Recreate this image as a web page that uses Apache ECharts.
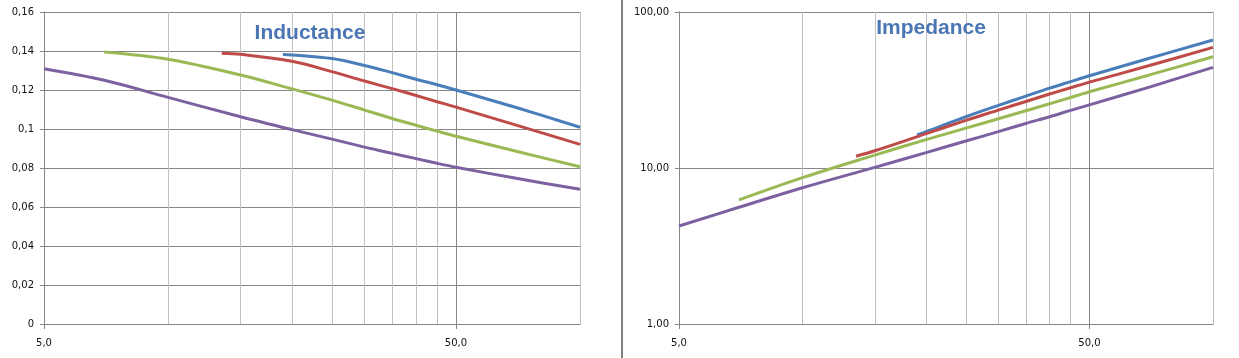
<!DOCTYPE html>
<html><head><meta charset="utf-8">
<script src="https://cdn.jsdelivr.net/npm/echarts@6/dist/echarts.min.js"></script>
<style>html,body{margin:0;padding:0;background:#fff}#c{width:1239px;height:358px}</style>
</head><body><div id="c"></div>
<script>
// ---- data ----
const xBlue   = [19, 20, 25, 30, 35, 40, 45, 50, 70, 100];
const xRed    = [13.5, 15, 20, 25, 30, 35, 40, 45, 50, 70, 100];
const xGreen  = [7, 10, 15, 20, 25, 30, 35, 40, 45, 50, 70, 100];
const xPurple = [5, 7, 10, 15, 20, 25, 30, 35, 40, 45, 50, 70, 100];

const indBlue   = [0.1382, 0.1380, 0.1361, 0.1326, 0.1289, 0.1255, 0.1227, 0.1200, 0.1110, 0.1009];
const indRed    = [0.1388, 0.1383, 0.1347, 0.1294, 0.1246, 0.1207, 0.1172, 0.1140, 0.1112, 0.1020, 0.0921];
const indGreen  = [0.1395, 0.1358, 0.1277, 0.1206, 0.1148, 0.1097, 0.1054, 0.1019, 0.0989, 0.0963, 0.0886, 0.0806];
const indPurple = [0.1309, 0.1250, 0.1162, 0.1063, 0.0997, 0.0948, 0.0907, 0.0875, 0.0848, 0.0824, 0.0804, 0.0747, 0.0691];

const impBlue   = [16.3, 17.1, 21.3, 25.2, 28.9, 32.5, 35.8, 39.0, 50.5, 66.2];
const impRed    = [11.9, 12.9, 16.6, 20.2, 23.5, 26.7, 29.8, 32.7, 35.5, 45.4, 59.3];
const impGreen  = [6.24, 8.67, 12.1, 15.2, 18.0, 20.7, 23.3, 25.8, 28.3, 30.8, 39.5, 51.7];
const impPurple = [4.25, 5.6, 7.47, 10.1, 12.55, 14.9, 17.1, 19.3, 21.3, 23.4, 25.4, 33.0, 44.2];

const xMajorTicks = [5, 50];
const xMinorTicks = [10, 15, 20, 25, 30, 35, 40, 45, 100];
const titles = ['Inductance', 'Impedance'];

// ---- styles ----
const colors = { blue: '#4A7EBB', red: '#BE4B48', green: '#98B954', purple: '#7D60A0' };
const FONT = '"DejaVu Sans", sans-serif';
const dark = '#868686', light = '#C0C0C0', txt = '#111';

function pairs(xs, ys) { return xs.map((x, i) => [x, ys[i]]); }
function comma(s) { return s.replace('.', ','); }

function minorX(g) {
  return { type: 'log', logBase: 10, gridIndex: g, min: 5, max: 100, position: 'bottom',
    axisLine: { show: false, onZero: false }, axisTick: { show: false, customValues: xMinorTicks },
    axisLabel: { show: false }, splitLine: { show: true, lineStyle: { color: light, width: 1 } } };
}
function majorX(g) {
  return { type: 'log', logBase: 10, gridIndex: g, min: 5, max: 100, position: 'bottom',
    axisLine: { show: true, onZero: false, lineStyle: { color: dark, width: 1 } },
    axisTick: { show: true, customValues: xMajorTicks, length: 5, lineStyle: { color: dark } },
    axisLabel: { customValues: xMajorTicks, margin: 14, fontFamily: FONT, fontSize: 10, color: txt,
      formatter: v => comma(Number(v).toFixed(1)) },
    splitLine: { show: true, lineStyle: { color: dark, width: 1 } } };
}

const series = [];
function add(name, xs, ind, imp, color) {
  const base = { type: 'line', smooth: 0.35, showSymbol: false, symbol: 'none',
    lineStyle: { width: 3, color: color }, itemStyle: { color: color }, silent: true };
  series.push(Object.assign({}, base, { name: name, xAxisIndex: 1, yAxisIndex: 0, data: pairs(xs, ind) }));
  series.push(Object.assign({}, base, { name: name, xAxisIndex: 3, yAxisIndex: 1, data: pairs(xs, imp) }));
}
add('blue', xBlue, indBlue, impBlue, colors.blue);
add('red', xRed, indRed, impRed, colors.red);
add('green', xGreen, indGreen, impGreen, colors.green);
add('purple', xPurple, indPurple, impPurple, colors.purple);

const option = {
  animation: false,
  backgroundColor: '#fff',
  grid: [
    { left: 44, top: 12, width: 536, height: 312 },
    { left: 679, top: 12, width: 534, height: 312 }
  ],
  xAxis: [minorX(0), majorX(0), minorX(1), majorX(1)],
  yAxis: [
    { type: 'value', gridIndex: 0, min: 0, max: 0.16, interval: 0.02,
      axisLine: { show: true, lineStyle: { color: dark } },
      axisTick: { show: true, length: 4, lineStyle: { color: dark } },
      axisLabel: { margin: 10, fontFamily: FONT, fontSize: 10, color: txt,
        formatter: v => v === 0 ? '0' : comma(String(+Number(v).toFixed(2))) },
      splitLine: { show: true, lineStyle: { color: dark } } },
    { type: 'log', logBase: 10, gridIndex: 1, min: 1, max: 100, interval: 1,
      axisLine: { show: true, lineStyle: { color: dark } },
      axisTick: { show: true, length: 4, lineStyle: { color: dark } },
      axisLabel: { margin: 10, fontFamily: FONT, fontSize: 10, color: txt,
        formatter: v => comma(Number(v).toFixed(2)) },
      splitLine: { show: true, lineStyle: { color: dark } } }
  ],
  graphic: [
    { type: 'rect', shape: { x: 621, y: 0, width: 2, height: 358 }, style: { fill: '#808080' }, z: 100 },
    { type: 'text', x: 310, y: 33, z: 100, style: { text: titles[0], fontFamily: '"Liberation Sans", sans-serif',
      fontWeight: 'bold', fontSize: 21, fill: '#4A76B4', align: 'center', verticalAlign: 'middle' } },
    { type: 'text', x: 931, y: 28, z: 100, style: { text: titles[1], fontFamily: '"Liberation Sans", sans-serif',
      fontWeight: 'bold', fontSize: 21, fill: '#4A76B4', align: 'center', verticalAlign: 'middle' } }
  ],
  series: series
};
const chart = echarts.init(document.getElementById('c'), null, { renderer: 'canvas' });
chart.setOption(option);
</script></body></html>
